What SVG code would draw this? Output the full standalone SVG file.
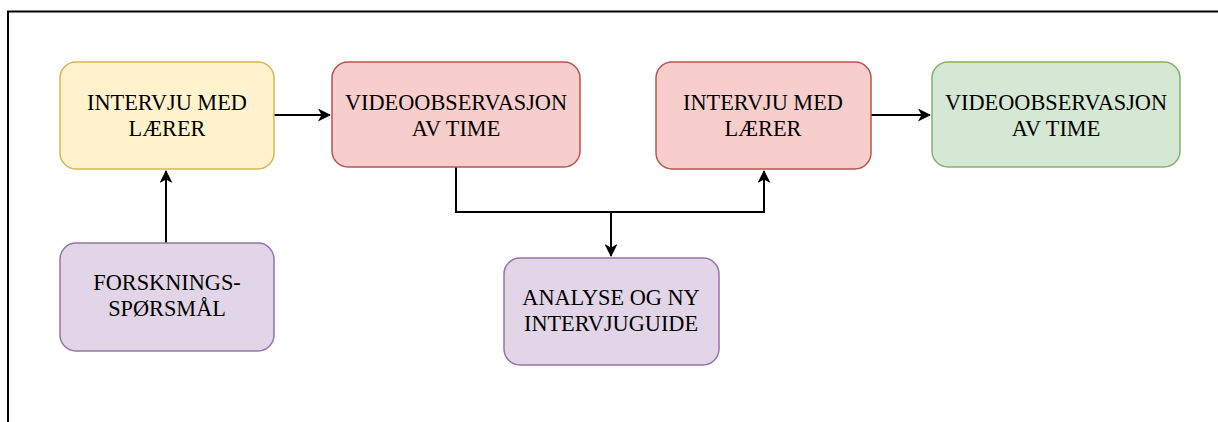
<svg xmlns="http://www.w3.org/2000/svg" width="1218" height="422" viewBox="0 0 1218 422">
<style>
.n{stroke-width:1.5}
.y{fill:#fff2cc;stroke:#d6b656}
.r{fill:#f8cecc;stroke:#b85450}
.g{fill:#d5e8d4;stroke:#82b366}
.p{fill:#e1d5e7;stroke:#9673a6}
text{font-family:"Liberation Serif","Times New Roman",serif;font-size:22.3px;fill:#000;text-anchor:middle}
.c{fill:none;stroke:#000;stroke-width:2}
</style>
<defs>
<marker id="a" markerWidth="13" markerHeight="13" viewBox="0 0 13 13" refX="12" refY="6.5" orient="auto" markerUnits="userSpaceOnUse">
<path d="M0,0 L13,6.5 L0,13 L3.5,6.5 Z" fill="#000"/>
</marker>
</defs>
<rect width="1218" height="422" fill="#fff"/>
<path d="M8,422 V11.5 H1218" fill="none" stroke="#000" stroke-width="2"/>
<g id="connectors">
<path class="c" d="M274,115 H330" marker-end="url(#a)"/>
<path class="c" d="M166,243 V171" marker-end="url(#a)"/>
<path class="c" d="M456,167 V212 H611 V256" marker-end="url(#a)"/>
<path class="c" d="M611,212 H764 V171" marker-end="url(#a)"/>
<path class="c" d="M871,115 H930" marker-end="url(#a)"/>
</g>
<g id="n1"><rect class="n y" x="60" y="62" width="214" height="107" rx="16"/><text x="167" y="110">INTERVJU MED</text><text x="167" y="136">LÆRER</text></g>
<g id="n2"><rect class="n r" x="332" y="62" width="248" height="105" rx="16"/><text x="456" y="110">VIDEOOBSERVASJON</text><text x="456" y="136">AV TIME</text></g>
<g id="n3"><rect class="n r" x="656" y="62" width="215" height="107" rx="16"/><text x="763" y="110">INTERVJU MED</text><text x="763" y="136">LÆRER</text></g>
<g id="n4"><rect class="n g" x="932" y="62" width="248" height="105" rx="16"/><text x="1056" y="110">VIDEOOBSERVASJON</text><text x="1056" y="136">AV TIME</text></g>
<g id="n5"><rect class="n p" x="60" y="243" width="214" height="108" rx="16"/><text x="167" y="290">FORSKNINGS-</text><text x="167" y="316">SPØRSMÅL</text></g>
<g id="n6"><rect class="n p" x="504" y="258" width="215" height="107" rx="16"/><text x="611" y="305">ANALYSE OG NY</text><text x="611" y="331">INTERVJUGUIDE</text></g>
</svg>
